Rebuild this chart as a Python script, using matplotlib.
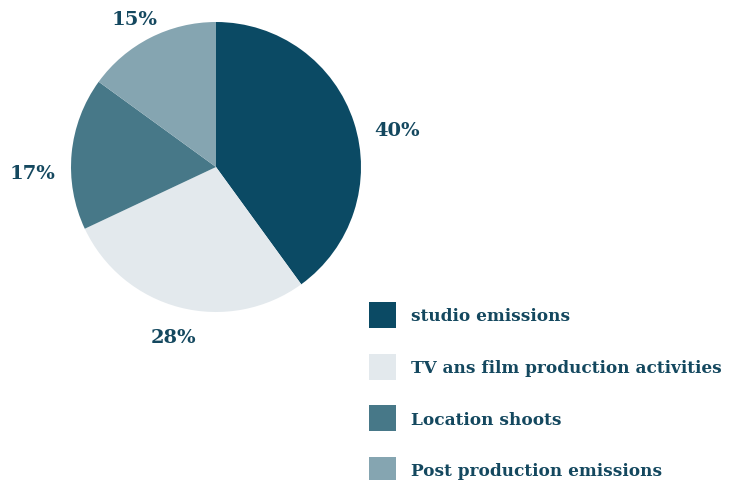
import matplotlib
matplotlib.use("Agg")
import numpy as np
import matplotlib.pyplot as plt
from matplotlib.patches import Patch

categories = ["studio emissions", "TV ans film production activities",
              "Location shoots", "Post production emissions"]
values = [40, 28, 17, 15]
colors = ["#0b4a64", "#e3e9ed", "#477888", "#85a5b1"]
text_color = "#14485f"

W, H = 739, 481
fig = plt.figure(figsize=(W / 100, H / 100), dpi=100)
cx, cy, r = 216, 168, 145
ax = fig.add_axes([(cx - r) / W, (H - cy - r) / H, 2 * r / W, 2 * r / H])

wedges, _ = ax.pie(values, colors=colors, startangle=90, counterclock=False,
                   radius=1, wedgeprops=dict(linewidth=0))
ax.set_xlim(-1, 1)
ax.set_ylim(-1, 1)
ax.set_aspect("auto")
ax.axis("off")

label_dist = [1.31, 1.17, 1.27, 1.23]
for w, v, d in zip(wedges, values, label_dist):
    a = np.deg2rad((w.theta1 + w.theta2) / 2)
    x = d * np.cos(a)
    y = d * np.sin(a) - 0.16 * abs(np.cos(a))
    ax.text(x, y, f"{v}%", ha="center", va="center", fontsize=14,
            fontfamily="DejaVu Serif", fontweight="bold", color=text_color,
            clip_on=False)

handles = [Patch(facecolor=c, edgecolor="none") for c in colors]
fs = 12.2
leg = fig.legend(handles, categories, loc="upper left",
                 bbox_to_anchor=(369 / W, 1 - 303 / H),
                 frameon=False, handlelength=1.6, handleheight=2.0,
                 handletextpad=0.9, labelspacing=1.5, borderpad=0, borderaxespad=0,
                 prop=dict(family="DejaVu Serif", weight="bold", size=fs))
for t in leg.get_texts():
    t.set_color(text_color)

fig.savefig("out.png", dpi=100)
